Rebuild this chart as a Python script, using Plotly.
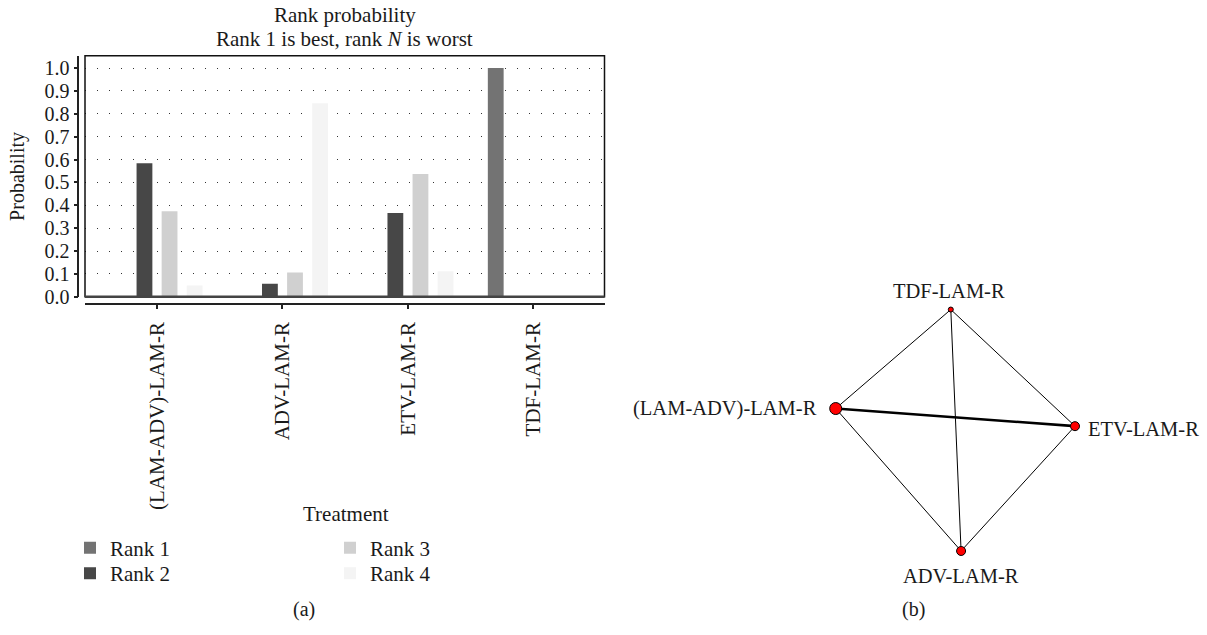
import plotly.graph_objects as go

# ---------------- data ----------------
treatments = ["(LAM-ADV)-LAM-R", "ADV-LAM-R", "ETV-LAM-R", "TDF-LAM-R"]
rank_names = ["Rank 1", "Rank 2", "Rank 3", "Rank 4"]
rank1 = [0.0, 0.0, 0.0, 1.0]
rank2 = [0.584, 0.057, 0.366, 0.0]
rank3 = [0.374, 0.106, 0.537, 0.0]
rank4 = [0.049, 0.846, 0.112, 0.0]
rank_values = [rank1, rank2, rank3, rank4]
y_ticks = [0.0, 0.1, 0.2, 0.3, 0.4, 0.5, 0.6, 0.7, 0.8, 0.9, 1.0]

# network: node layout coordinates (unit square), node sizes, edges
net_nodes = ["(LAM-ADV)-LAM-R", "TDF-LAM-R", "ETV-LAM-R", "ADV-LAM-R"]
net_x = [0.0, 0.481, 1.0, 0.524]
net_y = [0.590, 1.0, 0.517, 0.0]
net_node_size = [12, 5, 9, 9]
net_edges = [(0, 1), (0, 2), (0, 3), (1, 2), (1, 3), (2, 3)]
net_edge_width = [1, 2.6, 1, 1, 1, 1]

# ---------------- styles ----------------
FONT = "Liberation Serif"
TXT = "#1a1a1a"
rank_colors = ["#737373", "#474747", "#d0d0d0", "#f4f4f4"]
W, H = 1207, 635


def px_x(p):
    return p / W


def px_y(p):
    return 1 - p / H


fig = go.Figure()

legend_ids = ["legend", "legend2", "legend3", "legend4"]
for name, vals, col, lg in zip(rank_names, rank_values, rank_colors, legend_ids):
    fig.add_trace(go.Bar(
        x=treatments, y=vals, name=name,
        marker=dict(color=col, line=dict(width=0)),
        legend=lg, xaxis="x", yaxis="y",
    ))

# network edges
for (a, b), w in zip(net_edges, net_edge_width):
    fig.add_trace(go.Scatter(
        x=[net_x[a], net_x[b]], y=[net_y[a], net_y[b]],
        mode="lines", line=dict(color="black", width=w),
        showlegend=False, hoverinfo="skip", cliponaxis=False,
        xaxis="x3", yaxis="y3",
    ))
# network nodes
fig.add_trace(go.Scatter(
    x=net_x, y=net_y, mode="markers",
    marker=dict(color="#ff0000", opacity=1, size=net_node_size,
                line=dict(color="black", width=1)),
    showlegend=False, cliponaxis=False, xaxis="x3", yaxis="y3",
))

# node labels
label_cfg = [
    dict(xanchor="right", yanchor="middle", xshift=-17, yshift=0),
    dict(xanchor="center", yanchor="bottom", xshift=-2, yshift=6),
    dict(xanchor="left", yanchor="middle", xshift=11, yshift=-3),
    dict(xanchor="center", yanchor="top", xshift=0, yshift=-12),
]
annotations = []
for name, x, y, cfg in zip(net_nodes, net_x, net_y, label_cfg):
    annotations.append(dict(
        x=x, y=y, xref="x3", yref="y3", text=name, showarrow=False,
        font=dict(family=FONT, size=20.5, color=TXT), **cfg,
    ))


def paper_text(text, x, y, size, angle=0):
    return dict(x=px_x(x), y=px_y(y), xref="paper", yref="paper", showarrow=False,
                xanchor="center", yanchor="middle", textangle=angle, text=text,
                font=dict(family=FONT, size=size, color=TXT))


annotations += [
    paper_text("Rank probability", 345, 15, 21),
    paper_text("Rank 1 is best, rank <i>N</i> is worst", 345, 40, 21),
    paper_text("Probability", 18, 180, 20, -90),
    paper_text("Treatment", 346, 523, 21),
    paper_text("(a)", 304, 620, 20),
    paper_text("(b)", 913, 620, 20),
]

box_l, box_r, box_t, box_b = 85, 604.5, 56.7, 302


def legend_box(x, y):
    return dict(x=px_x(x), y=px_y(y), xanchor="left", yanchor="middle",
                font=dict(family=FONT, size=21, color=TXT), bgcolor="rgba(0,0,0,0)",
                itemclick=False, itemdoubleclick=False)


fig.update_layout(
    width=W, height=H,
    margin=dict(l=0, r=0, t=0, b=0),
    paper_bgcolor="white", plot_bgcolor="white",
    font=dict(family=FONT, size=20, color=TXT),
    barmode="group", bargap=0.2, bargroupgap=0.37,
    xaxis=dict(
        domain=[px_x(box_l), px_x(box_r)], anchor="free", position=px_y(309.3),
        range=[-0.574, 3.567], showline=True, linecolor="#222", linewidth=1.5,
        ticks="outside", ticklen=4, tickcolor="#222", tickwidth=1.5, tickangle=-90,
        ticklabelstandoff=5,
        tickfont=dict(family=FONT, size=21, color=TXT), showgrid=False, zeroline=False,
    ),
    yaxis=dict(
        domain=[px_y(box_b), px_y(box_t)], anchor="free", position=px_x(78.3),
        range=[0, 1.054], tickvals=y_ticks, ticktext=[f"{v:.1f}" for v in y_ticks],
        showline=True, linecolor="#222", linewidth=1.5,
        ticks="outside", ticklen=4, tickcolor="#222", tickwidth=1.5,
        tickfont=dict(family=FONT, size=20, color=TXT),
        showgrid=True, gridcolor="#333", gridwidth=1, griddash="1px,11px", zeroline=False,
    ),
    xaxis3=dict(domain=[px_x(835.7), px_x(1075)], range=[0, 1], visible=False, anchor="y3"),
    yaxis3=dict(domain=[px_y(560.7), px_y(315)], range=[0, 1], visible=False, anchor="x3"),
    legend=legend_box(70, 557.8),
    legend2=legend_box(70, 583.7),
    legend3=legend_box(330, 557.8),
    legend4=legend_box(330, 583.7),
    annotations=annotations,
    shapes=[
        dict(type="rect", xref="x domain", yref="y domain", x0=0, x1=1, y0=0, y1=1,
             line=dict(color="#111", width=1.5), layer="above"),
        dict(type="line", xref="x domain", yref="y domain", x0=0, x1=1, y0=0, y1=0,
             line=dict(color="#444", width=2.5), layer="above"),
    ],
)

post = (
    "var s='margin:0;padding:0;overflow:hidden;width:1207px;height:635px;';"
    "document.documentElement.style.cssText=s;document.body.style.cssText=s;"
)
fig.write_html("out.html", config={"displayModeBar": False}, post_script=post)
